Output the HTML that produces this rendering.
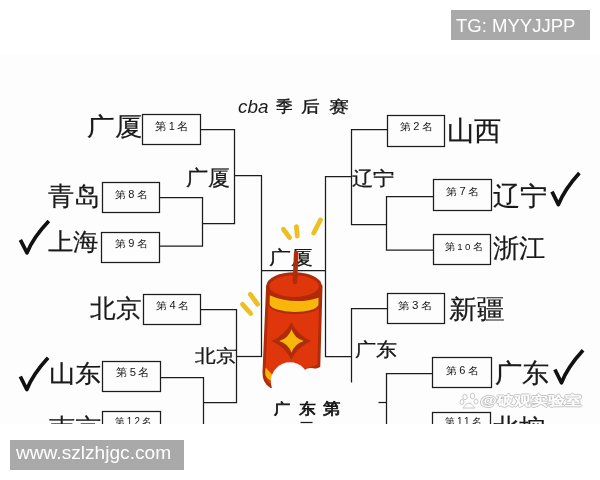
<!DOCTYPE html>
<html><head><meta charset="utf-8">
<style>
html,body{margin:0;padding:0;background:#fff;width:600px;height:480px;overflow:hidden;font-family:"Liberation Sans",sans-serif}
.photo{position:absolute;left:0;top:55px;width:600px;height:369px;background:#fdfdfd}
.clip{position:absolute;left:0;top:0;width:600px;height:424px;overflow:hidden}
.t{position:absolute;line-height:1;white-space:nowrap;transform-origin:0 0;-webkit-font-smoothing:antialiased;filter:grayscale(1)}
svg{position:absolute;left:0;top:0}
.ban{position:absolute;background:#a9a9a9}
</style></head><body>
<div class="photo"></div>
<div class="clip">
<div class='t' style='left:86.77px;top:113.55px;font-size:25.25px;transform:scaleX(1.101);color:#1a1a1a;font-family:"Liberation Sans", sans-serif;font-weight:normal;font-style:normal;-webkit-text-stroke:0.2px #111;'>广厦</div>
<div class='t' style='left:48.48px;top:183.82px;font-size:25.89px;transform:scaleX(1.008);color:#1a1a1a;font-family:"Liberation Sans", sans-serif;font-weight:normal;font-style:normal;-webkit-text-stroke:0.2px #111;'>青岛</div>
<div class='t' style='left:47.78px;top:230.31px;font-size:24.37px;transform:scaleX(1.057);color:#1a1a1a;font-family:"Liberation Sans", sans-serif;font-weight:normal;font-style:normal;-webkit-text-stroke:0.2px #111;'>上海</div>
<div class='t' style='left:89.64px;top:295.75px;font-size:25.36px;transform:scaleX(1.027);color:#1a1a1a;font-family:"Liberation Sans", sans-serif;font-weight:normal;font-style:normal;-webkit-text-stroke:0.2px #111;'>北京</div>
<div class='t' style='left:48.71px;top:362.26px;font-size:24.02px;transform:scaleX(1.089);color:#1a1a1a;font-family:"Liberation Sans", sans-serif;font-weight:normal;font-style:normal;-webkit-text-stroke:0.2px #111;'>山东</div>
<div class='t' style='left:49.48px;top:416.44px;font-size:25.57px;transform:scaleX(1.008);color:#1a1a1a;font-family:"Liberation Sans", sans-serif;font-weight:normal;font-style:normal;-webkit-text-stroke:0.2px #111;'>南京</div>
<div class='t' style='left:446.64px;top:117.60px;font-size:26.70px;transform:scaleX(1.010);color:#1a1a1a;font-family:"Liberation Sans", sans-serif;font-weight:normal;font-style:normal;-webkit-text-stroke:0.2px #111;'>山西</div>
<div class='t' style='left:492.75px;top:183.00px;font-size:26.12px;transform:scaleX(1.053);color:#1a1a1a;font-family:"Liberation Sans", sans-serif;font-weight:normal;font-style:normal;-webkit-text-stroke:0.2px #111;'>辽宁</div>
<div class='t' style='left:492.67px;top:235.31px;font-size:26.42px;transform:scaleX(1.007);color:#1a1a1a;font-family:"Liberation Sans", sans-serif;font-weight:normal;font-style:normal;-webkit-text-stroke:0.2px #111;'>浙江</div>
<div class='t' style='left:448.75px;top:295.74px;font-size:25.98px;transform:scaleX(1.065);color:#1a1a1a;font-family:"Liberation Sans", sans-serif;font-weight:normal;font-style:normal;-webkit-text-stroke:0.2px #111;'>新疆</div>
<div class='t' style='left:495.19px;top:360.54px;font-size:25.88px;transform:scaleX(1.047);color:#1a1a1a;font-family:"Liberation Sans", sans-serif;font-weight:normal;font-style:normal;-webkit-text-stroke:0.2px #111;'>广东</div>
<div class='t' style='left:493.04px;top:416.23px;font-size:25.83px;transform:scaleX(1.000);color:#1a1a1a;font-family:"Liberation Sans", sans-serif;font-weight:normal;font-style:normal;-webkit-text-stroke:0.2px #111;'>北控</div>
<div class='t' style='left:186.13px;top:166.79px;font-size:21.21px;transform:scaleX(1.054);color:#1a1a1a;font-family:"Liberation Sans", sans-serif;font-weight:normal;font-style:normal;-webkit-text-stroke:0.25px #111;'>广厦</div>
<div class='t' style='left:352.08px;top:170.00px;font-size:18.67px;transform:scaleX(1.124);color:#1a1a1a;font-family:"Liberation Sans", sans-serif;font-weight:normal;font-style:normal;-webkit-text-stroke:0.25px #111;'>辽宁</div>
<div class='t' style='left:194.99px;top:347.82px;font-size:17.84px;transform:scaleX(1.150);color:#1a1a1a;font-family:"Liberation Sans", sans-serif;font-weight:normal;font-style:normal;-webkit-text-stroke:0.25px #111;'>北京</div>
<div class='t' style='left:355.38px;top:340.81px;font-size:18.56px;transform:scaleX(1.108);color:#1a1a1a;font-family:"Liberation Sans", sans-serif;font-weight:normal;font-style:normal;-webkit-text-stroke:0.25px #111;'>广东</div>
<div class='t' style='left:269.33px;top:248.31px;font-size:19.39px;transform:scaleX(1.153);color:#1a1a1a;font-family:"Liberation Sans", sans-serif;font-weight:normal;font-style:normal;-webkit-text-stroke:0.25px #111;'>广厦</div>
<div class='t' style='left:154.87px;top:120.57px;font-size:10.64px;transform:scaleX(1.034);color:#151515;font-family:"Liberation Sans", sans-serif;font-weight:normal;font-style:normal;letter-spacing:0.22em;'>第1名</div>
<div class='t' style='left:114.67px;top:189.60px;font-size:10.11px;transform:scaleX(1.092);color:#151515;font-family:"Liberation Sans", sans-serif;font-weight:normal;font-style:normal;letter-spacing:0.22em;'>第8名</div>
<div class='t' style='left:114.67px;top:238.60px;font-size:10.11px;transform:scaleX(1.092);color:#151515;font-family:"Liberation Sans", sans-serif;font-weight:normal;font-style:normal;letter-spacing:0.22em;'>第9名</div>
<div class='t' style='left:155.67px;top:301.40px;font-size:10.11px;transform:scaleX(1.099);color:#151515;font-family:"Liberation Sans", sans-serif;font-weight:normal;font-style:normal;letter-spacing:0.22em;'>第4名</div>
<div class='t' style='left:115.66px;top:367.16px;font-size:11.06px;transform:scaleX(1.020);color:#151515;font-family:"Liberation Sans", sans-serif;font-weight:normal;font-style:normal;letter-spacing:0.22em;'>第5名</div>
<div class='t' style='left:115.21px;top:416.60px;font-size:10.11px;transform:scaleX(0.967);color:#151515;font-family:"Liberation Sans", sans-serif;font-weight:normal;font-style:normal;letter-spacing:0.22em;'>第12名</div>
<div class='t' style='left:399.67px;top:122.10px;font-size:10.11px;transform:scaleX(1.092);color:#151515;font-family:"Liberation Sans", sans-serif;font-weight:normal;font-style:normal;letter-spacing:0.22em;'>第2名</div>
<div class='t' style='left:445.66px;top:187.10px;font-size:10.11px;transform:scaleX(1.109);color:#151515;font-family:"Liberation Sans", sans-serif;font-weight:normal;font-style:normal;letter-spacing:0.22em;'>第7名</div>
<div class='t' style='left:444.71px;top:242.12px;font-size:9.57px;transform:scaleX(1.021);color:#151515;font-family:"Liberation Sans", sans-serif;font-weight:normal;font-style:normal;letter-spacing:0.22em;'>第10名</div>
<div class='t' style='left:398.45px;top:300.60px;font-size:10.11px;transform:scaleX(1.144);color:#151515;font-family:"Liberation Sans", sans-serif;font-weight:normal;font-style:normal;letter-spacing:0.22em;'>第3名</div>
<div class='t' style='left:445.67px;top:365.60px;font-size:10.11px;transform:scaleX(1.092);color:#151515;font-family:"Liberation Sans", sans-serif;font-weight:normal;font-style:normal;letter-spacing:0.22em;'>第6名</div>
<div class='t' style='left:444.70px;top:417.10px;font-size:10.11px;transform:scaleX(0.987);color:#151515;font-family:"Liberation Sans", sans-serif;font-weight:normal;font-style:normal;letter-spacing:0.22em;'>第11名</div>
<div class='t' style='left:238.13px;top:97.53px;font-size:18.92px;transform:scaleX(0.999);color:#1a1a1a;font-family:"Liberation Sans", sans-serif;font-weight:normal;font-style:italic;'>cba</div>
<div class='t' style='left:276.27px;top:98.70px;font-size:15.73px;transform:scaleX(1.039);color:#1a1a1a;font-family:"Liberation Serif", serif;font-weight:normal;font-style:normal;-webkit-text-stroke:0.35px #111;'>季</div>
<div class='t' style='left:300.94px;top:98.70px;font-size:15.89px;transform:scaleX(1.170);color:#1a1a1a;font-family:"Liberation Serif", serif;font-weight:normal;font-style:normal;-webkit-text-stroke:0.35px #111;'>后</div>
<div class='t' style='left:329.31px;top:99.02px;font-size:15.80px;transform:scaleX(1.245);color:#1a1a1a;font-family:"Liberation Serif", serif;font-weight:normal;font-style:normal;-webkit-text-stroke:0.35px #111;'>赛</div>
<div class='t' style='left:273.97px;top:401.30px;font-size:15.15px;transform:scaleX(1.081);color:#1a1a1a;font-family:"Liberation Sans", sans-serif;font-weight:normal;font-style:normal;-webkit-text-stroke:0.7px #111;'>广</div>
<div class='t' style='left:298.66px;top:401.15px;font-size:15.15px;transform:scaleX(1.123);color:#1a1a1a;font-family:"Liberation Sans", sans-serif;font-weight:normal;font-style:normal;-webkit-text-stroke:0.7px #111;'>东</div>
<div class='t' style='left:322.66px;top:400.67px;font-size:15.64px;transform:scaleX(1.088);color:#1a1a1a;font-family:"Liberation Sans", sans-serif;font-weight:normal;font-style:normal;-webkit-text-stroke:0.7px #111;'>第</div>
<div class='t' style='left:480.46px;top:394.07px;font-size:13.30px;transform:scaleX(1.305);color:#ffffff;font-family:"Liberation Sans", sans-serif;font-weight:bold;font-style:normal;text-shadow:0.8px 0 #c4c4c4,-0.8px 0 #c4c4c4,0 0.8px #c4c4c4,0 -0.8px #c4c4c4;'>@破观实验室</div>
<svg width="600" height="480" viewBox="0 0 600 480"><rect x="142.5" y="114.5" width="58.00" height="30.00" fill="none" stroke="#1c1c1c" stroke-width="1.25"/><rect x="102.5" y="182.5" width="57.00" height="30.00" fill="none" stroke="#1c1c1c" stroke-width="1.25"/><rect x="101.5" y="232.5" width="58.00" height="30.00" fill="none" stroke="#1c1c1c" stroke-width="1.25"/><rect x="143.5" y="294.5" width="57.00" height="30.00" fill="none" stroke="#1c1c1c" stroke-width="1.25"/><rect x="102.5" y="361.5" width="58.00" height="30.00" fill="none" stroke="#1c1c1c" stroke-width="1.25"/><rect x="102.5" y="411.5" width="58.00" height="29.00" fill="none" stroke="#1c1c1c" stroke-width="1.25"/><rect x="387.5" y="115.5" width="57.00" height="31.00" fill="none" stroke="#1c1c1c" stroke-width="1.25"/><rect x="433.5" y="179.5" width="58.00" height="31.00" fill="none" stroke="#1c1c1c" stroke-width="1.25"/><rect x="433.5" y="234.5" width="57.00" height="30.00" fill="none" stroke="#1c1c1c" stroke-width="1.25"/><rect x="387.5" y="293.5" width="57.00" height="30.00" fill="none" stroke="#1c1c1c" stroke-width="1.25"/><rect x="432.5" y="357.5" width="59.00" height="30.00" fill="none" stroke="#1c1c1c" stroke-width="1.25"/><rect x="432.5" y="412.5" width="58.00" height="28.00" fill="none" stroke="#1c1c1c" stroke-width="1.25"/><path d="M200.5,129.5 H234.5 V223.5 H202.5" fill="none" stroke="#1c1c1c" stroke-width="1.25" stroke-linejoin="miter"/><path d="M159.5,197.5 H202.5 V246 H159.5" fill="none" stroke="#1c1c1c" stroke-width="1.25" stroke-linejoin="miter"/><path d="M234.5,175.5 H261.5 V357" fill="none" stroke="#1c1c1c" stroke-width="1.25" stroke-linejoin="miter"/><path d="M261.5,270.5 H325.5" fill="none" stroke="#1c1c1c" stroke-width="1.25" stroke-linejoin="miter"/><path d="M200.5,309.5 H236.5 V402.5 H203.5" fill="none" stroke="#1c1c1c" stroke-width="1.25" stroke-linejoin="miter"/><path d="M236.5,356.5 H261.5" fill="none" stroke="#1c1c1c" stroke-width="1.25" stroke-linejoin="miter"/><path d="M160.5,377.5 H203.5 V430" fill="none" stroke="#1c1c1c" stroke-width="1.25" stroke-linejoin="miter"/><path d="M387.5,129.5 H351.5 V224.5 H386.5" fill="none" stroke="#1c1c1c" stroke-width="1.25" stroke-linejoin="miter"/><path d="M351.5,176.5 H325.5 V356.5 H351.5" fill="none" stroke="#1c1c1c" stroke-width="1.25" stroke-linejoin="miter"/><path d="M433.5,196.5 H386.5 V250 H433.5" fill="none" stroke="#1c1c1c" stroke-width="1.25" stroke-linejoin="miter"/><path d="M387.5,308.5 H351.5 V382.5" fill="none" stroke="#1c1c1c" stroke-width="1.25" stroke-linejoin="miter"/><path d="M432.5,373.5 H386.5 V430" fill="none" stroke="#1c1c1c" stroke-width="1.25" stroke-linejoin="miter"/><path d="M378.5,402.5 H386.5" fill="none" stroke="#1c1c1c" stroke-width="1.25" stroke-linejoin="miter"/><path d="M300.5,422.5 H312.5" fill="none" stroke="#1c1c1c" stroke-width="1.25" stroke-linejoin="miter"/><path d="M267.6,286 L264.0,372 Q263.6,382 271,386.5 L300,372 L318.8,366 L321.0,286 Z" fill="#e0360c" stroke="#ae2c0a" stroke-width="3" stroke-linejoin="round"/><path d="M265.5,367.5 L273.5,376 L272,381 Q266,379 265.2,374 Z" fill="#f7b60a"/><path d="M291.3,322.5 Q297.636,335.08 311.1,341 Q297.636,346.92 291.3,359.5 Q284.964,346.92 271.5,341 Q284.964,335.08 291.3,322.5 Z" fill="#ae2c0a"/><path d="M291.5,329.2 Q294.452,338.168 303.8,341 Q294.452,343.832 291.5,352.8 Q288.548,343.832 279.2,341 Q288.548,338.168 291.5,329.2 Z" fill="#f7b60a"/><path d="M266.8,286.4 V296 Q294,306 321.6,297.5 V286.4 Z" fill="#ae2c0a"/><path d="M268.8,293.8 L268.6,304.5 C273,315.5 315,316 319.4,305.5 L319.6,296.2 Q294,305 268.8,293.8 Z" fill="#f7b60a" stroke="#ae2c0a" stroke-width="2"/><ellipse cx="294.1" cy="286.2" rx="26.2" ry="12.4" fill="#e0360c" stroke="#ae2c0a" stroke-width="3"/><path d="M296.2,253 L294.9,282" fill="none" stroke="#ae2c0a" stroke-width="4.6" stroke-linecap="round"/><circle cx="290" cy="381.5" r="19.2" fill="#fdfdfd"/><circle cx="311" cy="379.5" r="11.5" fill="#fdfdfd"/><rect x="272" y="381" width="52" height="20" fill="#fdfdfd"/><path d="M283.4,229.2 L289.6,237.6" fill="none" stroke="#ecbf22" stroke-width="4.8" stroke-linecap="round"/><path d="M296.4,226.6 L297.3,236" fill="none" stroke="#ecbf22" stroke-width="4.8" stroke-linecap="round"/><path d="M320.4,220 L313.7,233" fill="none" stroke="#ecbf22" stroke-width="4.8" stroke-linecap="round"/><path d="M242.5,304.3 L250.7,313.5" fill="none" stroke="#ecbf22" stroke-width="4.8" stroke-linecap="round"/><path d="M250.3,294.4 L257.6,304.2" fill="none" stroke="#ecbf22" stroke-width="4.8" stroke-linecap="round"/><path d="M20.38,239.83 L27.02,252.85 Q33.04,237.73 48.83,221.10" fill="none" stroke="#111" stroke-width="3.7" stroke-linejoin="round"/><path d="M20.33,376.49 L26.81,389.54 Q32.68,374.38 48.08,357.71" fill="none" stroke="#111" stroke-width="3.7" stroke-linejoin="round"/><path d="M552.00,191.63 L558.40,204.65 Q564.20,189.53 579.40,172.90" fill="none" stroke="#111" stroke-width="3.7" stroke-linejoin="round"/><path d="M554.86,369.45 L561.44,382.79 Q567.41,367.29 583.05,350.25" fill="none" stroke="#111" stroke-width="3.7" stroke-linejoin="round"/><g fill="none" stroke="#c8c8c8" stroke-width="1"><ellipse cx="465" cy="397" rx="2.2" ry="2.8"/><ellipse cx="472.5" cy="396" rx="2.2" ry="2.8"/><ellipse cx="462" cy="402" rx="2" ry="2.5"/><ellipse cx="476" cy="401.5" rx="2" ry="2.5"/><path d="M463,408 Q469,398 475,408 Z"/></g></svg>
</div>
<div class="ban" style="left:451px;top:10px;width:139px;height:29.5px"></div>
<div class="ban" style="left:10px;top:440px;width:174px;height:29.5px"></div>
<div class='t' style='left:456.13px;top:16.50px;font-size:18.03px;transform:scaleX(1.029);color:#fff;font-family:"Liberation Sans", sans-serif;font-weight:normal;font-style:normal;'>TG: MYYJJPP</div>
<div class='t' style='left:16.00px;top:444.45px;font-size:18.72px;transform:scaleX(1.022);color:#fff;font-family:"Liberation Sans", sans-serif;font-weight:normal;font-style:normal;'>www.szlzhjgc.com</div>
</body></html>
